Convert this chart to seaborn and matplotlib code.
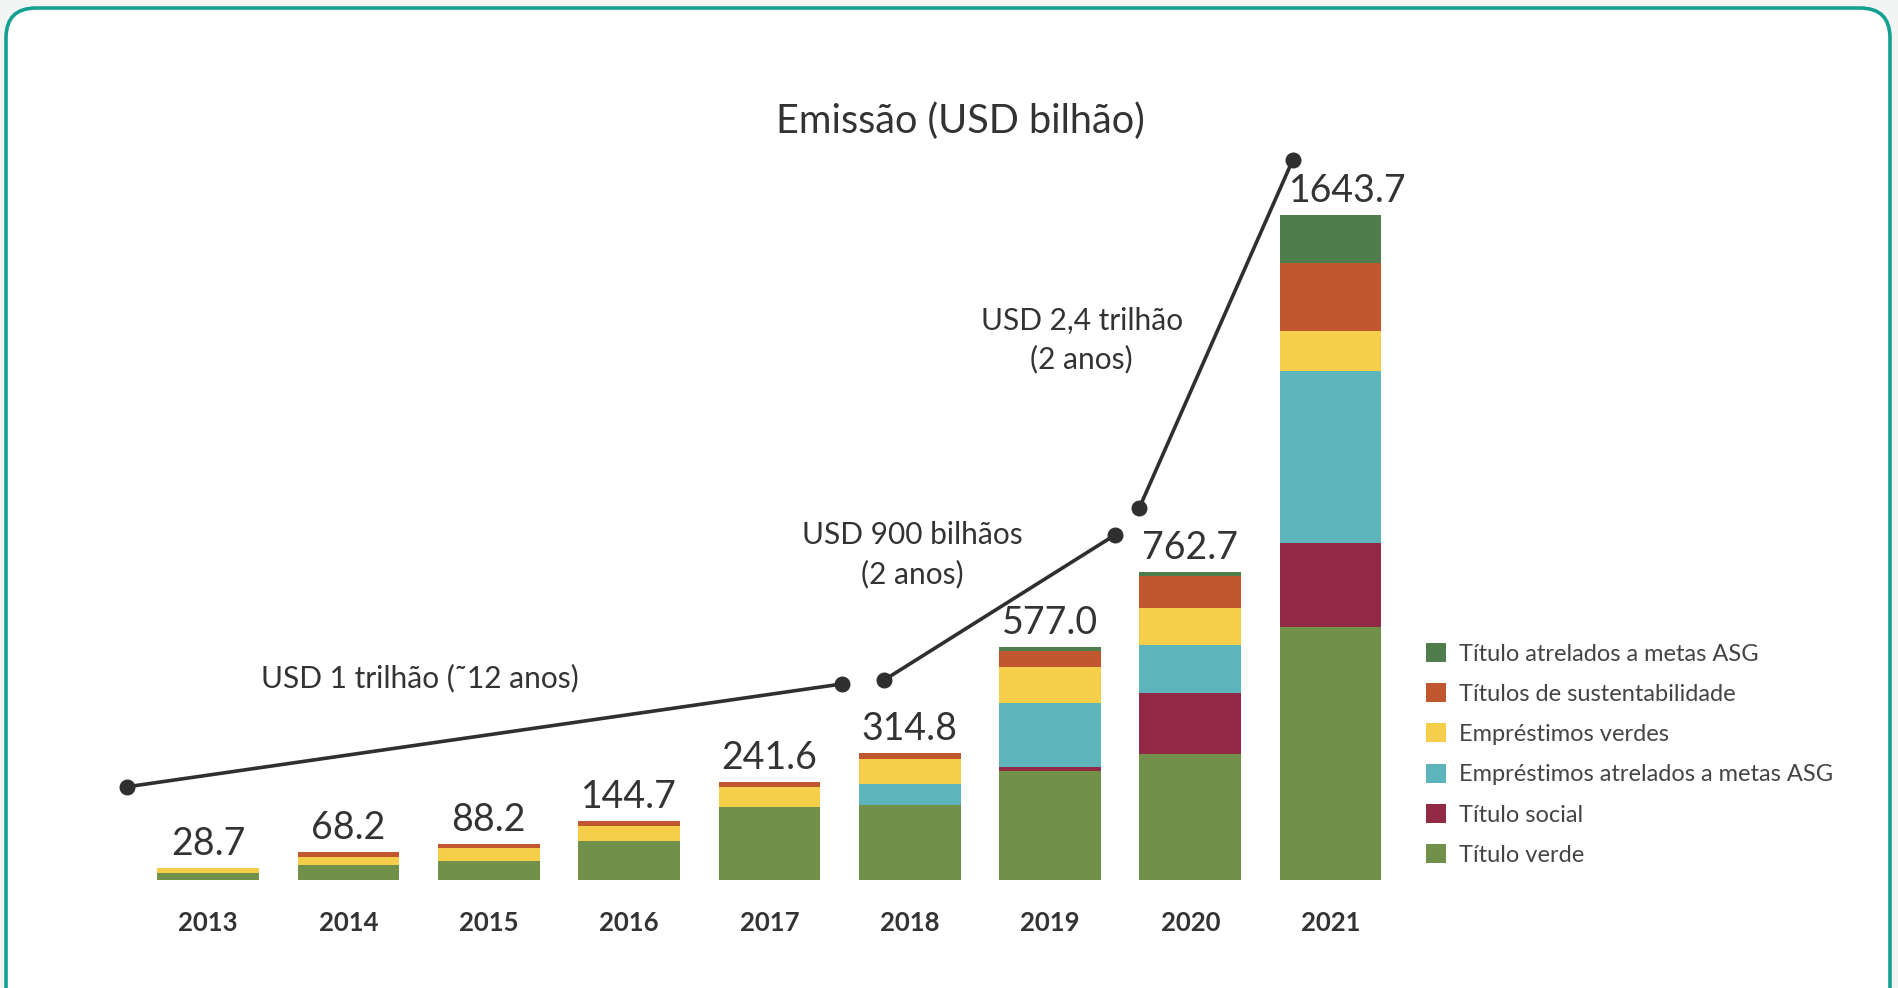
import numpy as np
import pandas as pd
import matplotlib
matplotlib.use("Agg")
import matplotlib.pyplot as plt
from matplotlib.patches import Patch, FancyBboxPatch
import seaborn as sns

# ---------------- data ----------------
years = ["2013", "2014", "2015", "2016", "2017", "2018", "2019", "2020", "2021"]
totals = [28.7, 68.2, 88.2, 144.7, 241.6, 314.8, 577.0, 762.7, 1643.7]

# series (bottom -> top)
titulo_verde = [17.0, 36.8, 47.4, 96.3, 181.6, 185.9, 268.9, 310.8, 625.7]
titulo_social = [0.0, 0.0, 0.0, 0.0, 0.0, 0.0, 10.6, 151.1, 207.2]
emprestimos_asg = [0.0, 0.0, 0.0, 0.0, 0.0, 51.2, 158.7, 120.0, 425.2]
emprestimos_verdes = [11.7, 21.2, 31.2, 38.1, 49.2, 61.5, 89.2, 90.8, 100.6]
titulos_sustent = [0.0, 10.2, 9.6, 10.3, 10.8, 16.2, 39.7, 79.3, 167.6]
titulo_asg = [0.0, 0.0, 0.0, 0.0, 0.0, 0.0, 9.9, 10.7, 117.4]

series_names = ["Título verde", "Título social", "Empréstimos atrelados a metas ASG",
                "Empréstimos verdes", "Títulos de sustentabilidade",
                "Título atrelados a metas ASG"]
series_vals = [titulo_verde, titulo_social, emprestimos_asg,
               emprestimos_verdes, titulos_sustent, titulo_asg]
colors = ["#71914a", "#922a45", "#5db5bb", "#f5cf4a", "#c0572e", "#4f7d4c"]

# growth annotation connectors (category index, value)
seg_x = [[-0.578, 4.521], [4.815, 6.463], [6.635, 7.731]]
seg_y = [[230.5, 485.0], [493.9, 853.3], [919.1, 1781.4]]
seg_labels = ["USD 1 trilhão (˜12 anos)", "USD 900 bilhãos\n(2 anos)", "USD 2,4 trilhão\n(2 anos)"]
seg_label_pos = [(1.51, 500), (5.02, 805), (6.225, 1335)]

# ---------------- style ----------------
sns.set_theme(style="white")
plt.rcParams["font.family"] = ["Lato", "DejaVu Sans"]
TXT = "#333333"

W, H = 1898, 988
fig = plt.figure(figsize=(W / 100, H / 100), dpi=100)
fig.patch.set_facecolor("#f3f4f4")

# card with teal border
card = FancyBboxPatch((6, -60), 1884, 1040, boxstyle="round,pad=0,rounding_size=30",
                      transform=None, facecolor="white", edgecolor="#14a192",
                      linewidth=2.6, zorder=-5)
fig.patches.append(card)

ax = fig.add_axes([100 / W, (H - 880) / H, 1320 / W, 780 / H])
ax.set_facecolor("none")
ax.patch.set_alpha(0)

df = pd.DataFrame({"ano": years})
cum = np.zeros(len(years))
cums = []
for v in series_vals:
    cum = cum + np.array(v)
    cums.append(cum.copy())

# draw cumulative layers from top to bottom so they stack visually
for i in range(len(series_vals) - 1, -1, -1):
    d = df.copy()
    d["v"] = cums[i]
    sns.barplot(data=d, x="ano", y="v", color=colors[i], saturation=1,
                width=0.725, linewidth=0, ax=ax)

ax.set_xlim(-0.771, 8.637)
ax.set_ylim(0, 1929)
for s in ax.spines.values():
    s.set_visible(False)
ax.set_yticks([])
ax.set_xlabel("")
ax.set_ylabel("")
ax.set_xticks(range(len(years)))
ax.set_xticklabels(years, fontsize=18.5, fontweight="bold", color=TXT)
ax.tick_params(axis="x", length=0, pad=22)

# total labels
for i, t in enumerate(totals):
    dx = 0.12 if i == len(totals) - 1 else 0
    ax.annotate(f"{t:.1f}", (i + dx, t), xytext=(0, 13), textcoords="offset pixels",
                ha="center", va="baseline", fontsize=27, color=TXT)

# growth connectors
for xs, ys in zip(seg_x, seg_y):
    ax.plot(xs, ys, color="#2f2f2f", lw=2.6, marker="o", markersize=10.5,
            solid_capstyle="round", clip_on=False, zorder=5)
for lab, (lx, ly) in zip(seg_labels, seg_label_pos):
    ax.text(lx, ly, lab, ha="center", va="center", fontsize=21.5, color=TXT,
            linespacing=1.45)

fig.text(960 / W, 1 - 121 / H, "Emissão (USD bilhão)", ha="center", va="center",
         fontsize=28.5, color=TXT)

handles = [Patch(facecolor=colors[i], edgecolor="none", label=series_names[i])
           for i in range(len(series_names) - 1, -1, -1)]
fig.legend(handles=handles, loc="upper left", bbox_to_anchor=(1426 / W, 1 - 643 / H),
           frameon=False, fontsize=17, handlelength=0.85, handleheight=0.85,
           handletextpad=0.55, labelspacing=0.79, borderpad=0, borderaxespad=0,
           labelcolor="#444444")

fig.savefig("out.png", dpi=100, facecolor=fig.get_facecolor())
